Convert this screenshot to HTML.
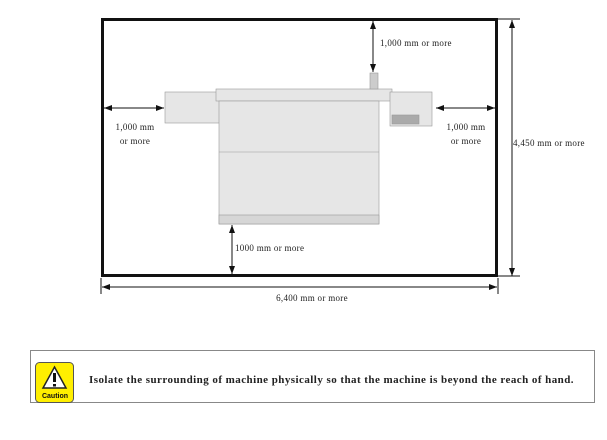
<!DOCTYPE html><html><head><style>
body{margin:0;width:607px;height:440px;background:#fff;position:relative;overflow:hidden;font-family:"Liberation Serif",serif}
.t{position:absolute;font-size:9px;letter-spacing:0.3px;color:#222;white-space:nowrap}
</style></head><body>
<svg width="607" height="440" style="position:absolute;left:0;top:0">
<defs><marker id="a" markerWidth="8" markerHeight="6" refX="8" refY="3" orient="auto-start-reverse" markerUnits="userSpaceOnUse"><path d="M0,0L8,3L0,6z" fill="#111"/></marker></defs>
<rect x="102.5" y="19.5" width="394" height="256" fill="none" stroke="#111" stroke-width="3"/>
<g stroke="#999" stroke-width="0.6" fill="#e6e6e6">
<rect x="165" y="92" width="55" height="31"/>
<rect x="216" y="89" width="176" height="12"/>
<rect x="219" y="101" width="160" height="123"/>
<line x1="219" y1="152" x2="379" y2="152"/>
<rect x="219" y="215" width="160" height="9" fill="#d6d6d6"/>
<rect x="390" y="92" width="42" height="34"/>
<rect x="392" y="115" width="27" height="9" fill="#aaa"/>
<rect x="370" y="73" width="8" height="16" fill="#ccc"/>
</g>
<g stroke="#111" stroke-width="1" fill="none">
<line x1="373" y1="21" x2="373" y2="72" marker-start="url(#a)" marker-end="url(#a)"/>
<line x1="104" y1="108" x2="164" y2="108" marker-start="url(#a)" marker-end="url(#a)"/>
<line x1="436" y1="108" x2="495" y2="108" marker-start="url(#a)" marker-end="url(#a)"/>
<line x1="232" y1="225" x2="232" y2="274" marker-start="url(#a)" marker-end="url(#a)"/>
<line x1="512" y1="20" x2="512" y2="276" marker-start="url(#a)" marker-end="url(#a)"/>
<line x1="498" y1="19" x2="520" y2="19"/><line x1="498" y1="276" x2="520" y2="276"/>
<line x1="102" y1="287" x2="497" y2="287" marker-start="url(#a)" marker-end="url(#a)"/>
<line x1="101" y1="278" x2="101" y2="294"/><line x1="498" y1="278" x2="498" y2="294"/>
</g>
<rect x="30.5" y="350.5" width="564" height="52" fill="none" stroke="#888" stroke-width="1"/>
<rect x="35.5" y="362.5" width="38" height="40" rx="4" fill="#ffef00" stroke="#555"/>
<path d="M54.5,367 L66,388 L43,388 Z" fill="#fff" stroke="#222" stroke-width="1.5"/>
<rect x="53" y="373" width="3" height="9" fill="#111"/><rect x="53" y="384" width="3" height="2.5" fill="#111"/>
</svg>
<div class="t" style="left:380px;top:38px">1,000 mm or more</div>
<div class="t" style="left:105px;top:120px;width:60px;text-align:center;line-height:14px">1,000 mm<br>or more</div>
<div class="t" style="left:436px;top:120px;width:60px;text-align:center;line-height:14px">1,000 mm<br>or more</div>
<div class="t" style="left:235px;top:243px">1000 mm or more</div>
<div class="t" style="left:513px;top:138px">4,450 mm or more</div>
<div class="t" style="left:250px;top:293px;width:124px;text-align:center">6,400 mm or more</div>
<div style="position:absolute;left:37px;top:393px;width:36px;text-align:center;font:bold 7px 'Liberation Sans',sans-serif;color:#111">Caution</div>
<div style="position:absolute;left:89px;top:374px;font-size:11px;letter-spacing:0.45px;font-weight:bold;color:#222;white-space:nowrap">Isolate the surrounding of machine physically so that the machine is beyond the reach of hand.</div>
</body></html>
